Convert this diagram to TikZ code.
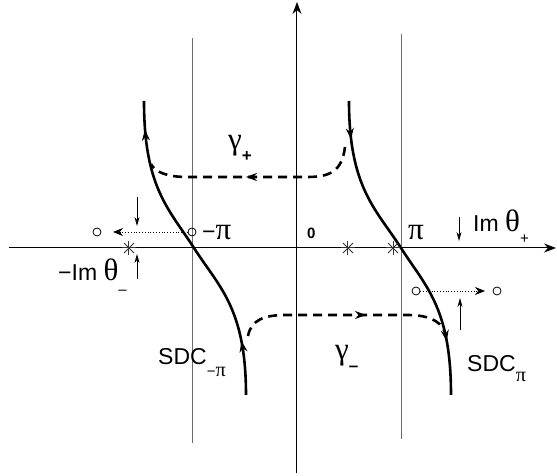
\documentclass[tikz,border=0pt]{standalone}
\usepackage{fontspec}
\setmainfont{Liberation Sans}
\newfontfamily\greek[Scale=1.35]{Liberation Serif}
\usetikzlibrary{arrows.meta, decorations.markings}

\begin{document}
\begin{tikzpicture}[
    x=1pt, y=1pt,
    font=\fontsize{23}{26}\selectfont,
    axis/.style={line width=1pt,-{Stealth[length=12pt,width=9pt]}},
    cut/.style={gray!85!black,line width=1pt},
    sdc/.style 2 args={line width=2.6pt,postaction={decorate},
        decoration={markings,
        mark=at position #1 with {\arrow{Stealth[length=11pt,width=8pt]}},
        mark=at position #2 with {\arrow{Stealth[length=11pt,width=8pt]}}}},
    contour/.style={line width=2.6pt,dash pattern=on 9pt off 6pt,postaction={decorate},
        decoration={markings,
        mark=at position #1 with {\arrow{Stealth[length=11pt,width=8pt]}}}},
    shift arrow/.style={line width=0.8pt,-{Stealth[length=9pt,width=5pt]}},
    move arrow/.style={dotted,line width=0.8pt,-{Stealth[length=10pt,width=8pt]}},
    pole/.style={circle,draw,inner sep=0pt,minimum size=8pt,line width=0.8pt},
    star/.style={gray!40!black,line width=1pt},
    tag/.style={anchor=base west,inner sep=0pt}
]
\useasboundingbox (-297,-228) rectangle (260,248);

% axes and the lines Re = -pi, pi
\coordinate (xl) at (-288,0);
\coordinate (xr) at (259,0);
\coordinate (yb) at (0,-225);
\coordinate (yt) at (0,246);
\draw[cut] (-104,210) -- (-104,-195);
\draw[cut] (104,214) -- (104,-191);
\draw[axis] (xl) -- (xr);
\draw[axis] (yb) -- (yt);

% steepest descent contours
\coordinate (mpi) at (-103,0);
\coordinate (ppi) at (104,0);
\draw[sdc={0.17}{0.91}] (-51,-147) .. controls (-51,-60) and (-78,-39) .. (mpi)
    .. controls (-128,39) and (-153,60) .. (-153,147);
\draw[sdc={0.12}{0.83}] (52,147) .. controls (52,60) and (79,39) .. (ppi)
    .. controls (129,-39) and (154,-60) .. (154,-147);

% gamma_+ and gamma_-
\draw[contour=0.54] (48,101) .. controls (45,76) and (32,71) .. (10,71) -- (-110,71)
    .. controls (-130,71) and (-142,76) .. (-146,84);
\draw[contour=0.6] (-49,-88) .. controls (-46,-72) and (-33,-67) .. (-11,-67) -- (110,-67)
    .. controls (130,-67) and (143,-72) .. (148,-84);

% saddle points
\coordinate (s1) at (-168,0);
\coordinate (s2) at (51,0);
\coordinate (s3) at (96,0);
\foreach \s in {s1,s2,s3}
  \foreach \a in {0,45,90,135}
    \draw[star,shift={(\s)}] (\a:7) -- (\a+180:7);

% poles moving off
\node[pole] (p1) at (-105,16) {};
\node[pole] (p1s) at (-200,16) {};
\coordinate (p1tip) at (-184,16);
\draw[move arrow] (p1) -- (p1tip);
\node[pole] (p2) at (119,-43) {};
\node[pole] (p2s) at (200,-43) {};
\coordinate (p2tip) at (188,-43);
\draw[move arrow] (p2) -- (p2tip);

% Im theta markers
\coordinate (a1) at (-160,51);
\coordinate (a1e) at (-160,22);
\coordinate (a2) at (-160,-31);
\coordinate (a2e) at (-160,-6);
\coordinate (a3) at (162,31);
\coordinate (a3e) at (162,7);
\coordinate (a4) at (163,-82);
\coordinate (a4e) at (163,-50);
\draw[shift arrow] (a1) -- (a1e);
\draw[shift arrow] (a2) -- (a2e);
\draw[shift arrow] (a3) -- (a3e);
\draw[shift arrow] (a4) -- (a4e);

% labels
\node[tag] (lmpi) at (-95,8) {−{\greek π}};
\node[tag] (lppi) at (111,8) {{\greek π}};
\node[tag,font=\fontsize{15}{15}\selectfont\bfseries] (lzero) at (10,9) {0};
\node[tag] (limp) at (176,16) {Im {\greek θ}\raisebox{-12pt}{\fontsize{15}{15}\selectfont +}};
\node[tag] (limm) at (-239,-33) {−Im {\greek θ}\raisebox{-14pt}{\fontsize{15}{15}\selectfont –}};
\node[tag] (lgp) at (-69,98) {{\greek γ}\raisebox{-12pt}{\fontsize{17}{17}\selectfont\bfseries +}};
\node[tag] (lgm) at (38,-112) {{\greek γ}\raisebox{-12pt}{\fontsize{17}{17}\selectfont\bfseries –}};
\node[tag] (lsdcm) at (-139,-117) {SDC\raisebox{-12pt}{\fontsize{15}{15}\selectfont −{\greek π}}};
\node[tag] (lsdcp) at (170,-124) {SDC\raisebox{-10pt}{\fontsize{15}{15}\selectfont {\greek π}}};

\end{tikzpicture}
\end{document}
